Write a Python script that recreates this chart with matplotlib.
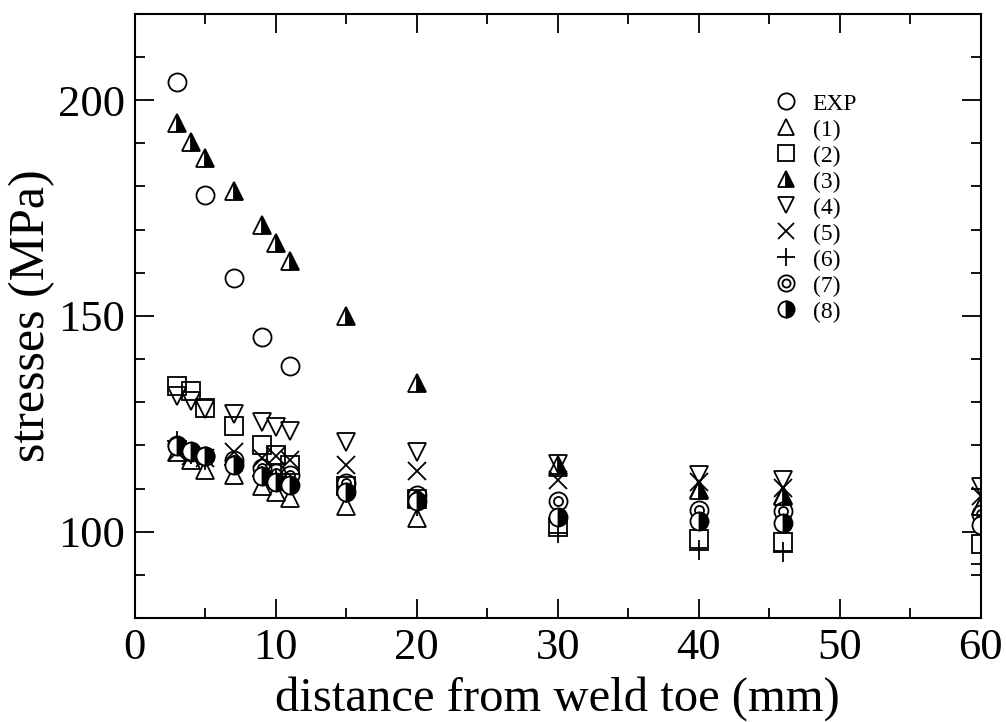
import numpy as np
import matplotlib
matplotlib.use("Agg")
from matplotlib import pyplot as plt
from matplotlib.path import Path
from matplotlib.ticker import MultipleLocator

plt.rcParams["font.family"] = ["Liberation Serif", "DejaVu Serif"]

# measured points
x_exp = [3, 5, 7, 9, 11]
y_exp = [204.2, 178.0, 158.7, 145.2, 138.4]

# computed points, all share the same stations
x_fe = [3, 4, 5, 7, 9, 10, 11, 15, 20, 30, 40, 46, 60]
y_1 = [118.5, 116.5, 114.4, 113.2, 110.5, 109.3, 107.8, 105.9, 103.2, 115.0, 110.0, 108.5, 106.0]
y_2 = [133.8, 132.5, 128.7, 124.4, 120.1, 117.8, 115.5, 110.5, 107.5, 101.2, 98.4, 97.6, 97.2]
y_3 = [194.6, 190.3, 186.5, 178.9, 171.0, 166.8, 162.8, 150.0, 134.4, 115.5, 109.7, 108.2, 106.0]
y_4 = [131.5, 130.2, 128.5, 127.3, 125.4, 124.3, 123.4, 120.8, 118.5, 115.8, 113.2, 112.0, 110.3]
y_5 = [118.5, 117.5, 117.0, 118.5, 117.0, 117.5, 116.5, 115.5, 114.0, 112.0, 111.6, 110.2, 108.2]
y_6 = [121.0, 118.0, 116.5, 115.5, 113.0, 112.0, 111.0, 109.0, 106.0, 99.8, 95.8, 95.4, 92.5]
y_7 = [120.0, 118.5, 117.5, 116.5, 114.8, 113.6, 113.2, 111.3, 108.6, 107.0, 105.1, 104.7, 104.0]
y_8 = [119.8, 118.6, 117.5, 115.5, 112.8, 111.6, 110.9, 109.3, 107.0, 103.5, 102.4, 102.0, 101.6]

labels = ["EXP", "(1)", "(2)", "(3)", "(4)", "(5)", "(6)", "(7)", "(8)"]

# double circle marker for (7)
ring = Path.make_compound_path(Path.circle((0, 0), 1.0), Path.circle((0, 0), 0.5))

fig = plt.figure(figsize=(10.06, 7.22), dpi=100)
ax = fig.add_axes([0.134, 0.144, 0.841, 0.837])

ms = 13
mew = 1.3
open_kw = dict(linestyle="none", markersize=ms, markeredgewidth=mew,
               markeredgecolor="black", markerfacecolor="none")
half_kw = dict(linestyle="none", markersize=ms, markeredgewidth=mew,
               markeredgecolor="black", markerfacecolor="black",
               markerfacecoloralt="white", fillstyle="right")

ax.plot(x_exp, y_exp, marker="o", label=labels[0], **open_kw)
ax.plot(x_fe, y_1, marker="^", label=labels[1], **open_kw)
ax.plot(x_fe, y_2, marker="s", label=labels[2], **open_kw)
ax.plot(x_fe, y_3, marker="^", label=labels[3], **half_kw)
ax.plot(x_fe, y_4, marker="v", label=labels[4], **open_kw)
ax.plot(x_fe, y_5, marker="x", label=labels[5], linestyle="none",
        markersize=ms, markeredgewidth=mew, color="black")
ax.plot(x_fe, y_6, marker="+", label=labels[6], linestyle="none",
        markersize=ms + 2, markeredgewidth=mew, color="black")
ax.plot(x_fe, y_7, marker=ring, label=labels[7], **open_kw)
ax.plot(x_fe, y_8, marker="o", label=labels[8], **half_kw)

ax.set_xlim(0, 60)
ax.set_ylim(80, 220)
ax.xaxis.set_major_locator(MultipleLocator(10))
ax.xaxis.set_minor_locator(MultipleLocator(5))
ax.yaxis.set_minor_locator(MultipleLocator(10))
ax.set_yticks([100, 150, 200])

ax.tick_params(which="both", direction="in", top=True, right=True, width=1.3, colors="black")
ax.tick_params(which="major", length=14, labelsize=32, pad=7)
ax.tick_params(which="minor", length=7)
for sp in ax.spines.values():
    sp.set_linewidth(1.5)

ax.set_xlabel("distance from weld toe (mm)", fontsize=35, labelpad=6)
ax.set_ylabel("stresses (MPa)", fontsize=36, labelpad=2)

ax.legend(loc="upper left", bbox_to_anchor=(0.733, 0.896), frameon=False,
          fontsize=17, handletextpad=0.54, labelspacing=0.19, markerscale=0.9,
          handlelength=1.2, borderpad=0.2)

fig.savefig("out.png", dpi=100)
